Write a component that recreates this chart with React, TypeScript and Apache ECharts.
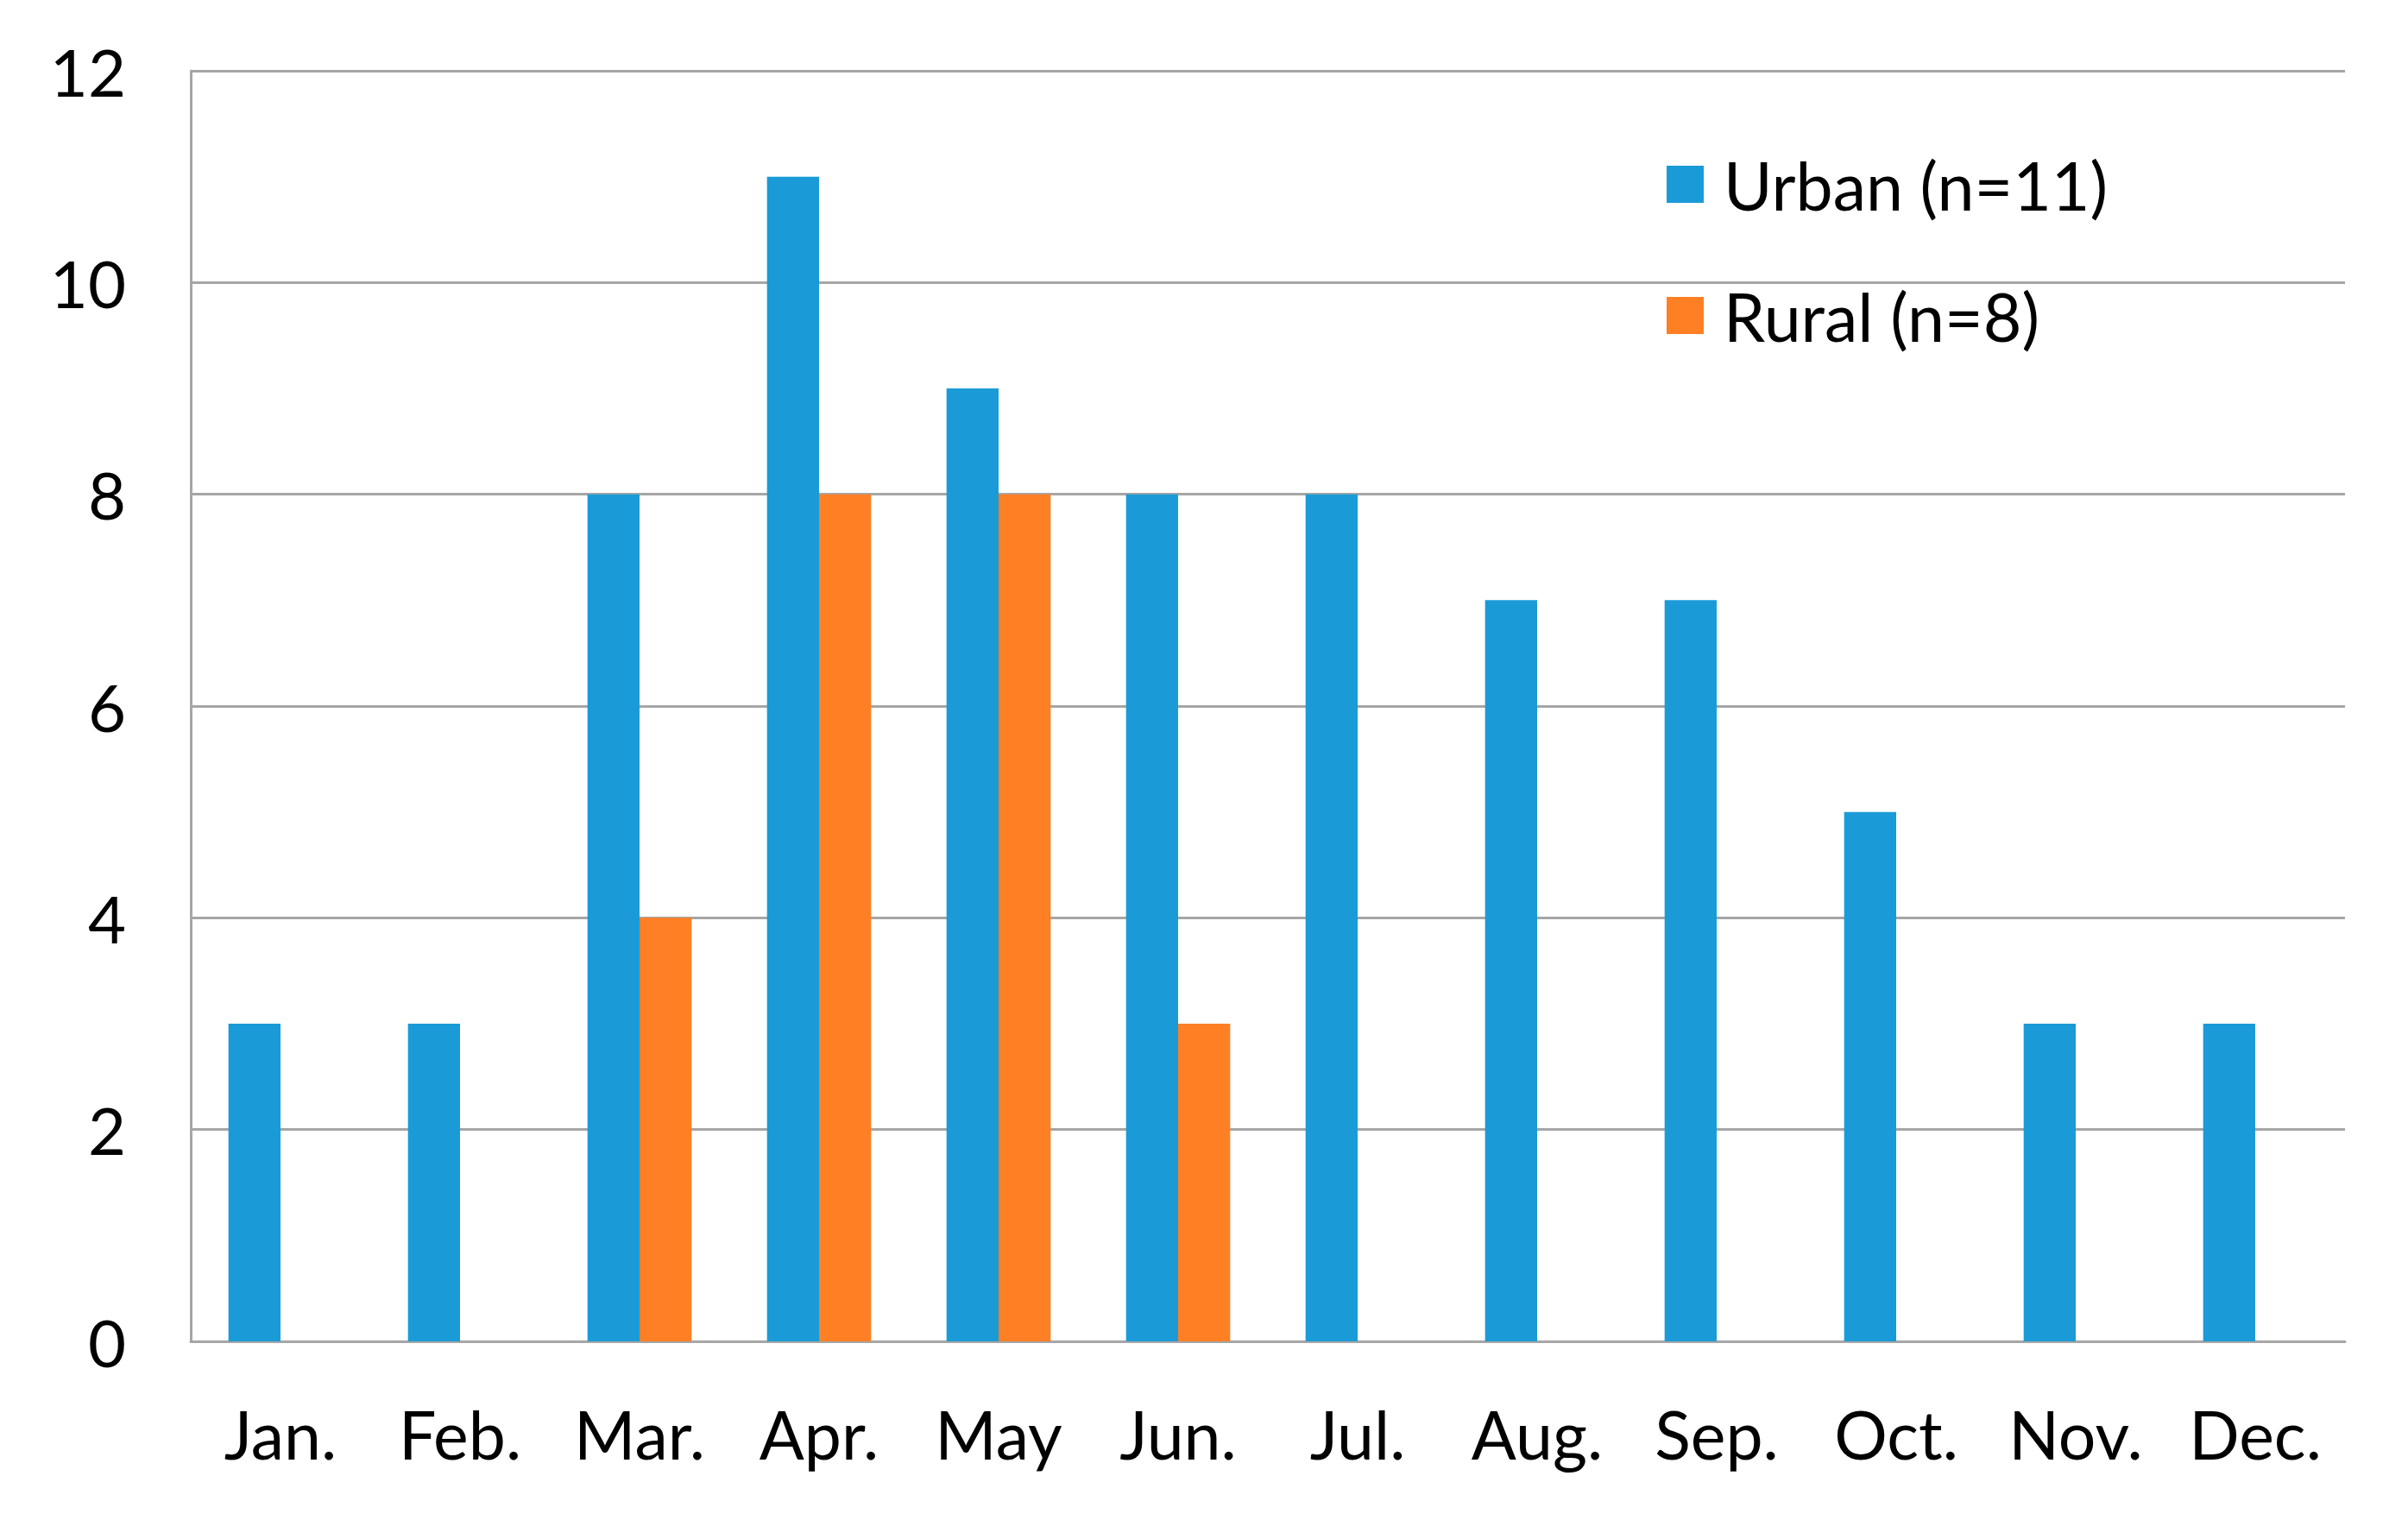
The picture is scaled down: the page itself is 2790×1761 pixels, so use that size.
import React, { useEffect, useRef } from "react";
import * as echarts from "echarts";

const months = ["Jan.", "Feb.", "Mar.", "Apr.", "May", "Jun.", "Jul.", "Aug.", "Sep.", "Oct.", "Nov.", "Dec."];
const urban = [3, 3, 8, 11, 9, 8, 8, 7, 7, 5, 3, 3];
const rural = [0, 0, 4, 8, 8, 3, 0, 0, 0, 0, 0, 0];
const seriesNames = ["Urban (n=11)", "Rural (n=8)"];
const yTicks = { min: 0, max: 12, interval: 2 };

const FONT = "Lato, 'Open Sans', sans-serif";

export default function App() {
  const ref = useRef<HTMLDivElement>(null);
  useEffect(() => {
    if (!ref.current) return;
    const chart = echarts.init(ref.current, undefined, { renderer: "svg" });
    chart.setOption({
      animation: false,
      backgroundColor: "#ffffff",
      textStyle: { fontFamily: FONT },
      grid: { left: 221, right: 73, top: 82, bottom: 207, containLabel: false },
      legend: {
        orient: "vertical",
        left: 1926,
        top: 170,
        itemWidth: 43,
        itemHeight: 43,
        itemGap: 75,
        icon: "rect",
        textStyle: { fontSize: 77, lineHeight: 72, color: "#000", fontFamily: FONT, padding: [0, 0, 0, 18] },
        data: seriesNames,
      },
      xAxis: {
        type: "category",
        data: months,
        axisLine: { show: true, lineStyle: { color: "#a6a6a6", width: 3 } },
        axisTick: { show: false },
        axisLabel: { fontSize: 77, color: "#000", margin: 68, fontFamily: FONT },
      },
      yAxis: {
        type: "value",
        min: yTicks.min,
        max: yTicks.max,
        interval: yTicks.interval,
        axisLine: { show: true, lineStyle: { color: "#a6a6a6", width: 3 } },
        axisTick: { show: false },
        axisLabel: { fontSize: 76, color: "#000", margin: 75, fontFamily: FONT },
        splitLine: { show: true, lineStyle: { color: "#a6a6a6", width: 3 } },
      },
      series: [
        {
          name: seriesNames[0],
          type: "bar",
          data: urban,
          itemStyle: { color: "#1A9BD7" },
          barGap: "0%",
          barCategoryGap: "42%",
        },
        {
          name: seriesNames[1],
          type: "bar",
          data: rural,
          itemStyle: { color: "#FE7F24" },
          barGap: "0%",
          barCategoryGap: "42%",
        },
      ],
    });
    return () => chart.dispose();
  }, []);
  return (
    <div
      ref={ref}
      style={{ position: "fixed", left: 0, top: 0, width: 2790, height: 1761, background: "#fff" }}
    />
  );
}
